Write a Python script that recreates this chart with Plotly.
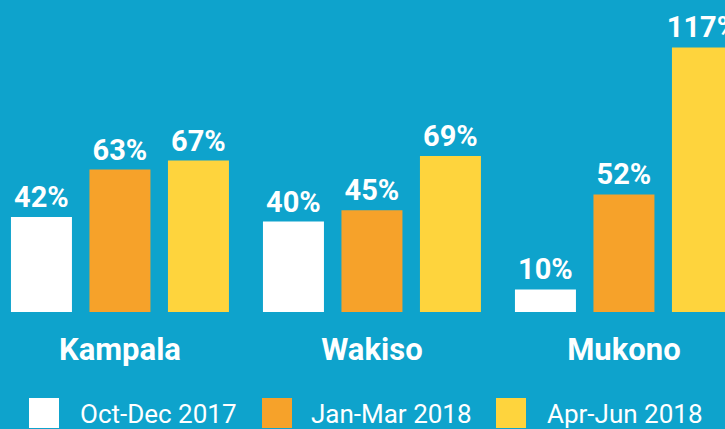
import plotly.graph_objects as go

districts = ["Kampala", "Wakiso", "Mukono"]
series_names = ["Oct-Dec 2017", "Jan-Mar 2018", "Apr-Jun 2018"]
oct_dec_2017 = [42, 40, 10]
jan_mar_2018 = [63, 45, 52]
apr_jun_2018 = [67, 69, 117]

BG = "#0ea3cc"
colors = ["#ffffff", "#f6a22a", "#fed43d"]
values = [oct_dec_2017, jan_mar_2018, apr_jun_2018]

fig = go.Figure()
for name, vals, col in zip(series_names, values, colors):
    fig.add_trace(go.Bar(
        x=districts, y=vals, name=name,
        marker=dict(color=col, line=dict(width=0)),
        text=[f"{v}%" for v in vals],
        textposition="outside",
        textfont=dict(family="Roboto", size=29, color="white", weight="bold"),
        constraintext="none",
        cliponaxis=False,
        hoverinfo="skip",
    ))

W, H = 725, 429
plot_bottom = 312

def py(p):
    return (plot_bottom - p) / plot_bottom

shapes = []
annotations = []
legend_sq_x = [29, 262, 496]
legend_tx_x = [78, 309, 545]
for sx, tx, col, name in zip(legend_sq_x, legend_tx_x, colors, series_names):
    shapes.append(dict(type="rect", xref="paper", yref="paper",
                       x0=sx / W, x1=(sx + 30) / W, y0=py(398), y1=py(428),
                       fillcolor=col, line=dict(width=0), layer="above"))
    annotations.append(dict(xref="paper", yref="paper", x=tx / W, y=py(414),
                            xanchor="left", yanchor="middle", text=name,
                            showarrow=False,
                            font=dict(family="Roboto", size=26, color="white")))

fig.update_layout(
    width=W, height=H,
    margin=dict(l=0, r=0, t=0, b=H - plot_bottom, pad=0),
    paper_bgcolor=BG, plot_bgcolor=BG,
    barmode="group", bargap=0.0655, bargroupgap=0.223,
    showlegend=False,
    shapes=shapes, annotations=annotations,
    xaxis=dict(range=[-0.476, 2.401], showgrid=False, zeroline=False,
               showline=False, ticks="", ticklabelstandoff=16,
               tickfont=dict(family="Roboto", size=31, color="white", weight="bold")),
    yaxis=dict(range=[0, 138], visible=False, showgrid=False, zeroline=False),
)

fig.write_html(
    "out.html",
    config={"displayModeBar": False},
    post_script="document.body.style.margin='0';document.body.style.overflow='hidden';",
)
